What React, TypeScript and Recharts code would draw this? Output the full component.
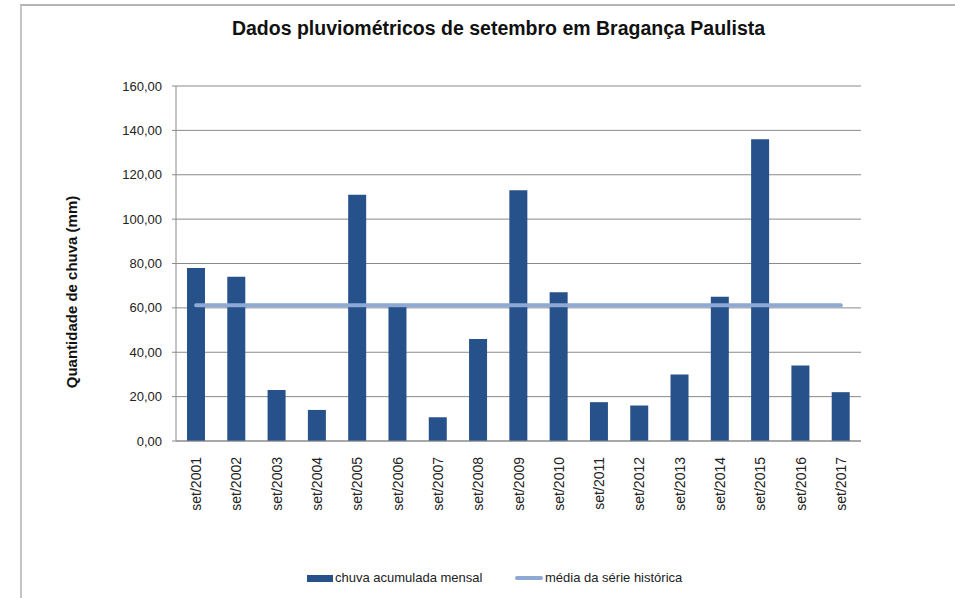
import React from 'react';
import { ComposedChart, Bar, Line, XAxis, YAxis, CartesianGrid } from 'recharts';

const months = [
  'set/2001', 'set/2002', 'set/2003', 'set/2004', 'set/2005', 'set/2006',
  'set/2007', 'set/2008', 'set/2009', 'set/2010', 'set/2011', 'set/2012',
  'set/2013', 'set/2014', 'set/2015', 'set/2016', 'set/2017',
];
const rainfall = [78, 74, 23, 14, 111, 60.5, 10.7, 46, 113, 67, 17.5, 16, 30, 65, 136, 34, 22];
const historicalMean = [61.2, 61.2, 61.2, 61.2, 61.2, 61.2, 61.2, 61.2, 61.2, 61.2, 61.2, 61.2, 61.2, 61.2, 61.2, 61.2, 61.2];
const yTicks = [0, 20, 40, 60, 80, 100, 120, 140, 160];

const FONT = '"Liberation Sans", Arial, sans-serif';
const BAR_COLOR = '#26518A';
const LINE_COLOR = '#8DA9D4';
const AXIS_COLOR = '#8a8a8a';

const data = months.map((m, i) => ({ month: m, chuva: rainfall[i], media: historicalMean[i] }));

const fmt = (v: number) => v.toFixed(2).replace('.', ',');

const MonthTick = (props: any) => {
  const { x, y, payload } = props;
  return (
    <g transform={`translate(${x},${y})`}>
      <text transform="rotate(-90)" x={-8} y={5} textAnchor="end" fontSize={14} fill="#222" fontFamily={FONT}>
        {payload.value}
      </text>
    </g>
  );
};

export default function App() {
  return (
    <div style={{ position: 'absolute', left: 0, top: 0, width: 955, height: 598, background: '#fff', fontFamily: FONT }}>
      {/* outer frame */}
      <div style={{ position: 'absolute', left: 20, top: 4, width: 935, height: 594, borderTop: '2px solid #b4b4b4', borderLeft: '2px solid #c4c4c4' }} />

      <div style={{ position: 'absolute', left: 0, width: 997, top: 17, textAlign: 'center', fontSize: 19.5, fontWeight: 'bold', color: '#111' }}>
        Dados pluviométricos de setembro em Bragança Paulista
      </div>

      <div style={{ position: 'absolute', left: 71, top: 292, transform: 'translate(-50%, -50%) rotate(-90deg)', whiteSpace: 'nowrap', fontSize: 15, fontWeight: 'bold', color: '#111' }}>
        Quantidade de chuva (mm)
      </div>

      <div style={{ position: 'absolute', left: 0, top: 0 }}>
        <ComposedChart width={955} height={598} data={data} margin={{ top: 86, right: 94, left: 0, bottom: 0 }}>
          <CartesianGrid horizontal vertical={false} stroke={AXIS_COLOR} strokeDasharray="" />
          <XAxis
            dataKey="month"
            height={157}
            interval={0}
            axisLine={{ stroke: AXIS_COLOR }}
            tickLine={false}
            tick={<MonthTick />}
          />
          <YAxis
            width={176}
            domain={[0, 160]}
            ticks={yTicks}
            tickFormatter={fmt}
            axisLine={{ stroke: AXIS_COLOR }}
            tickLine={{ stroke: AXIS_COLOR }}
            tickSize={4}
            tickMargin={10}
            tick={{ fontSize: 13, fill: '#222', fontFamily: FONT }}
          />
          <Bar dataKey="chuva" fill={BAR_COLOR} barSize={18} isAnimationActive={false} />
          <Line dataKey="media" stroke={LINE_COLOR} strokeWidth={4} strokeLinecap="round" dot={false} activeDot={false} isAnimationActive={false} />
        </ComposedChart>
      </div>

      {/* legend */}
      <div style={{ position: 'absolute', left: 307, top: 575, width: 26, height: 7, background: BAR_COLOR }} />
      <div style={{ position: 'absolute', left: 335, top: 570, fontSize: 13, color: '#222', lineHeight: '16px' }}>chuva acumulada mensal</div>
      <div style={{ position: 'absolute', left: 515, top: 576, width: 28, height: 4, background: LINE_COLOR, borderRadius: 2 }} />
      <div style={{ position: 'absolute', left: 545, top: 570, fontSize: 13, color: '#222', lineHeight: '16px' }}>média da série histórica</div>
    </div>
  );
}
